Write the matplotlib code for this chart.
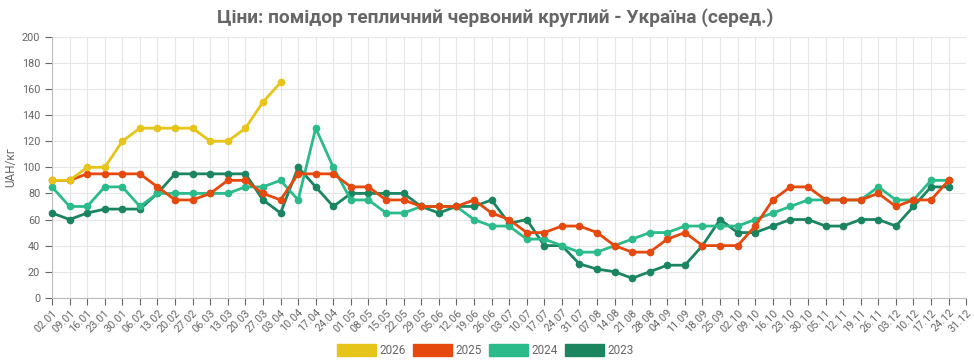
import matplotlib.pyplot as plt
from matplotlib.patches import Patch

# weekly dates (x axis)
dates = ['02.01', '09.01', '16.01', '23.01', '30.01', '06.02', '13.02', '20.02', '27.02',
         '06.03', '13.03', '20.03', '27.03', '03.04', '10.04', '17.04', '24.04', '01.05',
         '08.05', '15.05', '22.05', '29.05', '05.06', '12.06', '19.06', '26.06', '03.07',
         '10.07', '17.07', '24.07', '31.07', '07.08', '14.08', '21.08', '28.08', '04.09',
         '11.09', '18.09', '25.09', '02.10', '09.10', '16.10', '23.10', '30.10', '05.11',
         '12.11', '19.11', '26.11', '03.12', '10.12', '17.12', '24.12', '31.12']

prices_2026 = [90, 90, 100, 100, 120, 130, 130, 130, 130, 120, 120, 130, 150, 165]

prices_2025 = [90, 90, 95, 95, 95, 95, 85, 75, 75, 80, 90, 90, 80, 75, 95, 95, 95, 85,
               85, 75, 75, 70, 70, 70, 75, 65, 60, 50, 50, 55, 55, 50, 40, 35, 35, 45,
               50, 40, 40, 40, 55, 75, 85, 85, 75, 75, 75, 80, 70, 75, 75, 90]

prices_2024 = [85, 70, 70, 85, 85, 70, 80, 80, 80, 80, 80, 85, 85, 90, 75, 130, 100, 75,
               75, 65, 65, 70, 70, 70, 60, 55, 55, 45, 45, 40, 35, 35, 40, 45, 50, 50,
               55, 55, 55, 55, 60, 65, 70, 75, 75, 75, 75, 85, 75, 75, 90, 90]

prices_2023 = [65, 60, 65, 68, 68, 68, 80, 95, 95, 95, 95, 95, 75, 65, 100, 85, 70, 80,
               80, 80, 80, 70, 65, 70, 70, 75, 57, 60, 40, 40, 26, 22, 20, 15, 20, 25,
               25, 40, 60, 50, 50, 55, 60, 60, 55, 55, 60, 60, 55, 70, 85, 85]

years = ['2026', '2025', '2024', '2023']
series = [prices_2026, prices_2025, prices_2024, prices_2023]
colors = ['#e6c419', '#e5490d', '#2bbb8b', '#1b8560']

plt.rcParams['font.family'] = ['Roboto', 'DejaVu Sans']

fig, ax = plt.subplots(figsize=(9.74, 3.61), dpi=100)
fig.subplots_adjust(left=0.0534, right=0.992, top=0.898, bottom=0.175)

# draw oldest first so 2026 ends up on top
for year, vals, col in reversed(list(zip(years, series, colors))):
    ax.plot(range(len(vals)), vals, color=col, lw=2.0, marker='o', ms=4.5,
            zorder=3, clip_on=False)

ax.set_xlim(0, len(dates) - 1)
ax.set_ylim(0, 200)
ax.set_yticks(range(0, 201, 20))
ax.set_xticks(range(len(dates)))
ax.set_xticklabels(dates, rotation=45, ha='right', rotation_mode='anchor')
ax.tick_params(axis='both', colors='#666666', labelsize=7.8, length=5, width=0.8)
ax.tick_params(axis='x', pad=2)
ax.grid(True, color='#e6e6e6', lw=0.8)
ax.set_axisbelow(True)
for side in ['top', 'right']:
    ax.spines[side].set_visible(False)
for side in ['left', 'bottom']:
    ax.spines[side].set_color('#bbbbbb')

ax.set_ylabel('UAH/кг', color='#666666', fontsize=8.5, labelpad=3)

fig.suptitle('Ціни: помідор тепличний червоний круглий - Україна (серед.)',
             x=0.508, y=0.978, fontsize=13.8, fontweight='bold', color='#666666')

handles = [Patch(facecolor=c, edgecolor=c, label=y) for y, c in zip(years, colors)]
fig.legend(handles=handles, loc='lower center', bbox_to_anchor=(0.498, -0.018), ncol=4,
           frameon=False, fontsize=8.5, handlelength=3.3, handleheight=1.1,
           columnspacing=0.6, handletextpad=0.3, labelcolor='#666666')

plt.savefig('out.png', dpi=100)
